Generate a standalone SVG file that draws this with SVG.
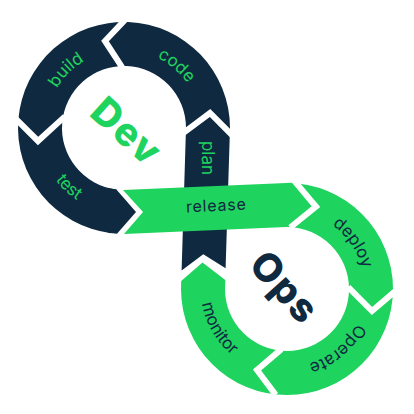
<svg xmlns="http://www.w3.org/2000/svg" width="414" height="414" viewBox="0 0 414 414">
<style>
.navy{fill:#0f2a40}
.green{fill:#1fd35f}
.gap{fill:none;stroke:#fff;stroke-width:6;stroke-linejoin:miter;stroke-miterlimit:10;stroke-linecap:butt}
.lbl{font-family:Inter,"Noto Sans",sans-serif;font-size:17px}
.lg{fill:#1fd35f}
.ln{fill:#0f2a40}
.big{font-family:Inter,"Noto Sans",sans-serif;font-size:39px;font-weight:800;letter-spacing:1.5px}
</style>
<defs>
<path id="pCode" d="M73.9,68.3 A78,78 0 0 1 191.5,167"/>
<path id="pBuild" d="M60.1,172.7 A78,78 0 0 1 168.7,64.1"/>
<path id="pTest" d="M51.9,81.2 A86,86 0 0 0 175.8,196.7"/>
<path id="pDeploy" d="M254,218.3 A78,78 0 0 1 342.2,344.2"/>
<path id="pOperate" d="M354.5,250 A78,78 0 0 1 236.9,348.7"/>
<path id="pMonitor" d="M231.7,223.1 A86,86 0 0 0 316.4,369.8"/>
</defs>
<rect width="414" height="414" fill="#fff"/>

<g id="dev">
<path class="navy" d="M230,128 A106,106 0 1 0 111.1,233.2 L116.4,189.5 A62,62 0 1 1 186,128 Z"/>
<polygon class="navy" points="108,187.9 116.4,189.5 136,212 117,233.8 108,232.8"/>
<polygon class="navy" points="186,128 230,128 225.6,268.3 203.3,254.3 181.6,270.5"/>
</g>

<g id="ops">
<path class="green" d="M287,183 A106,106 0 1 1 181,289 L225,289 A62,62 0 1 0 287,227 Z"/>
<polygon class="green" points="181.2,281 202.5,262.5 225.3,280 225,289.5 181,289.5"/>
</g>

<g id="release">
<polygon class="green" points="123,190 292,182.8 314,205 292,226.8 124,234 143,212"/>
</g>

<g id="connectors">
<polyline class="gap" points="182.8,133.4 210,113 232.8,135.8"/>
<polyline class="gap" points="125.7,19.1 105,41 122.2,67.3"/>
<polyline class="gap" points="15.1,118.2 38,141 65,116.4"/>
<polyline class="gap" points="292.4,178.6 316,206.7 290.2,227.5"/>
<polyline class="gap" points="348.2,287.2 372,311 395,291.4"/>
<polyline class="gap" points="281.4,349.1 257,370 275.7,394.9"/>
</g>

<g id="labels">
<text class="lbl lg"><textPath href="#pCode" startOffset="50%" text-anchor="middle">code</textPath></text>
<text class="lbl lg"><textPath href="#pBuild" startOffset="50%" text-anchor="middle">build</textPath></text>
<text class="lbl lg"><textPath href="#pTest" startOffset="50%" text-anchor="middle">test</textPath></text>
<text class="lbl lg" transform="translate(207,158) rotate(90)" text-anchor="middle" y="5">plan</text>
<text class="lbl ln" style="font-size:16px" transform="translate(216.5,211) rotate(-2.6)" text-anchor="middle" letter-spacing="0.8">release</text>
<text class="lbl ln"><textPath href="#pDeploy" startOffset="50%" text-anchor="middle">deploy</textPath></text>
<text class="lbl ln"><textPath href="#pOperate" startOffset="50%" text-anchor="middle">Operate</textPath></text>
<text class="lbl ln"><textPath href="#pMonitor" startOffset="50%" text-anchor="middle">monitor</textPath></text>
<text class="big lg" transform="translate(127,131) rotate(42)" text-anchor="middle" y="14">Dev</text>
<text class="big ln" transform="translate(285,287) rotate(48)" text-anchor="middle" y="14">Ops</text>
</g>
</svg>
